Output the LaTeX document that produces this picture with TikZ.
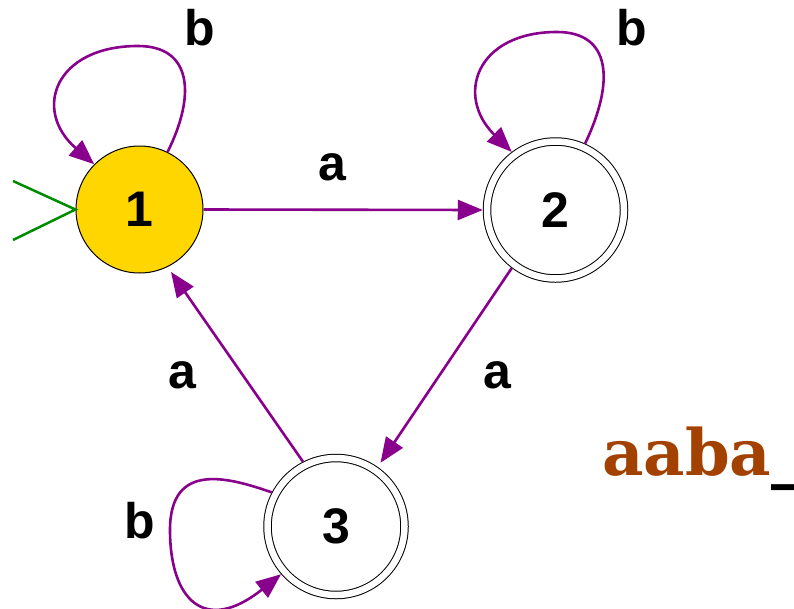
\documentclass[tikz,border=0pt]{standalone}
\usepackage{fontspec}
\setmainfont{Liberation Sans}
\newfontfamily\wordfont{DejaVu Serif}
\usetikzlibrary{arrows.meta}
\definecolor{edgepurple}{RGB}{136,0,140}
\definecolor{startgold}{RGB}{255,214,0}
\definecolor{initgreen}{RGB}{0,140,0}
\definecolor{wordbrown}{RGB}{163,65,0}
\tikzset{
  statebase/.style={circle, draw=black, line width=1pt, inner sep=0pt,
    font=\fontsize{50}{60}\bfseries\selectfont},
  startstate/.style={statebase, fill=startgold, minimum size=127pt},
  acceptstate/.style={statebase, double, double distance=6.5pt,
    minimum size=137pt, outer sep=4.25pt},
  trans/.style={draw=edgepurple, line width=2.6pt,
    -{Triangle[length=25pt,width=20pt]}},
  lbl/.style={anchor=base, inner sep=0pt, font=\fontsize{50}{60}\bfseries\selectfont},
  initline/.style={draw=initgreen, line width=2.5pt}
}
\begin{document}
\begin{tikzpicture}[x=1pt,y=-1pt]
\useasboundingbox (0,0) rectangle (794,608);
% states
\node[startstate] (n1) at (139.5,209.5) {1};
\node[acceptstate] (n2) at (555.5,210) {2};
\node[acceptstate] (n3) at (336,526.5) {3};
% initial marker
\coordinate (i1) at (13,181);
\coordinate (i2) at (13,240);
\draw[initline] (i1) -- (n1.west) -- (i2);
% straight transitions
\draw[trans] (n1.east) -- (n2.west);
\draw[trans, shorten >=5pt] (n2.233) -- (n3.55);
\draw[trans, shorten >=6pt] (n3.117) -- (n1.-64);
% loops
\coordinate (m1) at (138,46);
\draw[trans] (n1.64) .. controls (196,95) and (192,46) .. (m1)
  .. controls (55,46) and (32,110) .. (n1.135);
\coordinate (m2) at (557,32);
\draw[trans] (n2.66) .. controls (615,81) and (611,32) .. (m2)
  .. controls (476,32) and (455,96) .. (n2.127);
\coordinate (m3) at (170,530);
\draw[trans] (n3.152) .. controls (230,478) and (170,460) .. (m3)
  .. controls (170,600) and (205,635) .. (n3.221);
% labels
\node[lbl] (la12) at (332,180) {a};
\node[lbl] (la23) at (497,388) {a};
\node[lbl] (la31) at (182,388) {a};
\node[lbl] (lb1) at (200,45) {b};
\node[lbl] (lb2) at (632,45) {b};
\node[lbl] (lb3) at (140,538) {b};
% word
\node[anchor=base west, inner sep=0pt, font=\wordfont\fontsize{64}{72}\bfseries\selectfont]
  (word) at (602,475) {\textcolor{wordbrown}{aaba}\_};
\end{tikzpicture}
\end{document}
